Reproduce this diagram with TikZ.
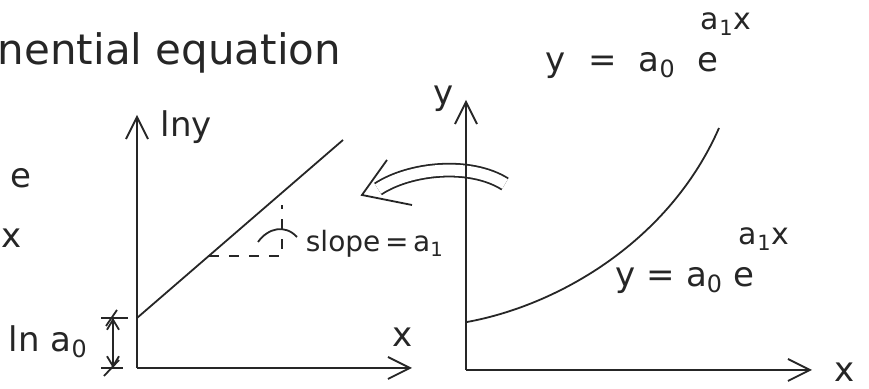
\documentclass[tikz,border=0pt]{standalone}
\usepackage{fontspec}
\setmainfont{DejaVu Sans}
\usetikzlibrary{arrows.meta,calc}

\begin{document}
\begin{tikzpicture}[
		x=0.5pt,
		y=-0.5pt,
		font=\fontsize{17}{20}\selectfont,
		line width=0.9pt,
		>={Straight Barb[length=11pt,width=11pt]},
		lbl/.style={inner sep=0pt,text=black!85},
		eq/.style={lbl,anchor=base west},
		expo/.style={lbl,anchor=base west,font=\fontsize{15}{18}\selectfont},
		axis/.style={->,draw=black!85},
		curve/.style={draw=black!85},
		guide/.style={draw=black!85,dash pattern=on 5pt off 5pt},
		dim/.style={<->,draw=black!85,>={Straight Barb[length=5pt,width=6pt]}},
		bigarrow/.style={draw=black!85,double,double distance=5.5pt}
		]
		
		\useasboundingbox (0,0) rectangle (869,389);
		
		% =====================================================
		% Title and cut-off text on the left
		% =====================================================
		\node[eq,font=\fontsize{21}{24}\selectfont] (title) at (-3,65) {nential equation};
		\node[lbl] (ecut) at (21,178) {e};
		\node[lbl] (xcut) at (12,238) {x};
		
		% =====================================================
		% Left plot: ln y against x
		% =====================================================
		\coordinate (O1) at (137,368);
		\coordinate (Y1) at (137,115);
		\coordinate (X1) at (412,368);
		\draw[axis] (O1) -- (Y1);
		\draw[axis] (O1) -- (X1);
		
		\node[eq] (lny) at (160,137) {lny};
		\node[lbl] (xl) at (403,337) {x};
		
		% straight line
		\coordinate (A) at (137,318);
		\coordinate (B) at (343,140);
		\draw[curve] (A) -- (B);
		
		% slope triangle
		\coordinate (P) at ($(A)!0.35!(B)$);
		\coordinate (Qx) at (282,0);
		\coordinate (Q) at (P -| Qx);
		\coordinate (R) at (282,205);
		\draw[guide] (P) -- (Q) -- (R);
		\draw[curve] (258,242) .. controls (268,228) and (285,224) .. (297,237);
		\node[eq,font=\fontsize{14}{17}\selectfont] (slope) at (305,252) {slope\,=\,a\textsubscript{1}};
		
		% intercept
		\coordinate (D1) at (113,318);
		\coordinate (D2) at (113,368);
		\draw[dim] (D1) -- (D2);
		\draw[curve] (101,318) -- (128,318);
		\draw[curve] (101,368) -- (123,368);
		\draw[curve] (106,326) -- (117,310);
		\draw[curve] (104,376) -- (119,360);
		\node[eq] (lna) at (8,352) {ln\ a\textsubscript{0}};
		
		% =====================================================
		% Transformation arrow
		% =====================================================
		\coordinate (arrS) at (505,184);
		\coordinate (arrE) at (362,195);
		\draw[bigarrow] (arrS) .. controls (470,162) and (410,168) .. (378,189);
		\draw[curve] (387,160) -- (arrE) -- (412,205);
		
		% =====================================================
		% Right plot: y against x
		% =====================================================
		\coordinate (O2) at (466,370);
		\coordinate (Y2) at (466,100);
		\coordinate (X2) at (812,370);
		\draw[axis] (O2) -- (Y2);
		\draw[axis] (O2) -- (X2);
		
		\node[eq] (yl) at (433,105) {y};
		\node[lbl] (xr) at (845,372) {x};
		
		% exponential curve
		\coordinate (C0) at (467,322);
		\coordinate (C1) at (719,128);
		\draw[curve] (C0) .. controls (560,305) and (670,240) .. (C1);
		
		\node[eq] (eqtop) at (545,72) {y\,\, =\,\, a\textsubscript{0}\,\, e};
		\node[expo] (exptop) at (700,30) {a\textsubscript{1}x};
		
		\node[eq] (eqbot) at (615,287) {y = a\textsubscript{0} e};
		\node[expo] (expbot) at (738,245) {a\textsubscript{1}x};
		
	\end{tikzpicture}
\end{document}
